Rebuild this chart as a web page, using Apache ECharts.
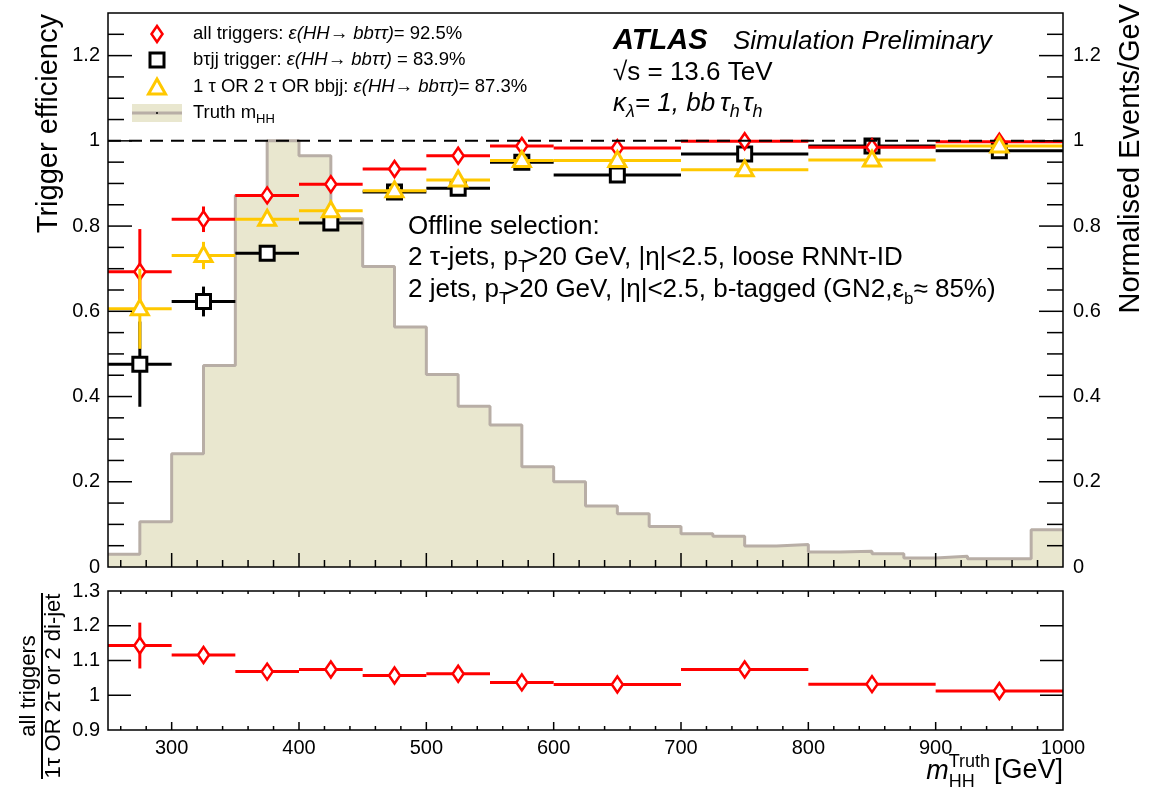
<!DOCTYPE html>
<html><head><meta charset="utf-8">
<script src="https://cdn.jsdelivr.net/npm/echarts@6/dist/echarts.min.js"></script>
<style>html,body{margin:0;padding:0;background:#fff}#c{width:1160px;height:787px}</style>
</head><body><div id="c"></div>
<script>
// ---------------- data ----------------
const histEdges = [250,275,300,325,350,375,400,425,450,475,500,525,550,575,600,625,650,675,700,725,750,775,800,825,850,875,900,925,950,975,1000];
const histValues = [0.030,0.106,0.266,0.473,0.872,1.0,0.965,0.817,0.705,0.563,0.452,0.377,0.333,0.235,0.200,0.143,0.125,0.095,0.078,0.072,0.049,0.053,0.035,0.037,0.031,0.021,0.025,0.0195,0.0195,0.0875];

const effBinEdges = [250,300,350,400,450,500,550,600,700,800,900,1000];
const effAllTriggers    = [0.693,0.816,0.872,0.898,0.934,0.965,0.988,0.983,0.999,0.985,0.998];
const effAllTriggersErr = [0.100,0.030,0.014,0.011,0.009,0.007,0.005,0.005,0.004,0.004,0.004];
const effBtauJJ         = [0.476,0.623,0.736,0.807,0.880,0.889,0.950,0.920,0.969,0.988,0.977];
const effBtauJJErr      = [0.100,0.035,0.016,0.012,0.010,0.008,0.006,0.006,0.005,0.005,0.005];
const effTauOrBBJJ      = [0.606,0.731,0.816,0.836,0.883,0.908,0.954,0.954,0.932,0.955,0.988];
const effTauOrBBJJErr   = [0.094,0.032,0.015,0.012,0.010,0.008,0.006,0.006,0.005,0.005,0.004];
const ratioValues       = [1.143,1.116,1.068,1.074,1.057,1.062,1.037,1.031,1.074,1.032,1.012];
const ratioErr          = [0.066,0.020,0.010,0.008,0.007,0.006,0.005,0.004,0.004,0.004,0.004];

const xTickLabels = [300,400,500,600,700,800,900,1000];
const yMainTickLabels = [0,0.2,0.4,0.6,0.8,1,1.2];
const yRatioTickLabels = [0.9,1,1.1,1.2,1.3];

// ---------------- styles ----------------
const FONT = 'Liberation Sans';
const RED = '#ff0000', BLACK = '#000000', YELLOW = '#ffc800';
const HIST_FILL = '#e9e7cf', HIST_LINE = '#b8aea6';

const mctx = document.createElement('canvas').getContext('2d');
function measure(t, size, style, weight) {
  mctx.font = (style||'normal') + ' ' + (weight||'normal') + ' ' + size + 'px "' + FONT + '"';
  return mctx.measureText(t).width;
}
function seq(x, y, parts, align) {
  const widths = parts.map(p => (p.adv !== undefined ? p.adv : measure(p.t, p.size, p.style, p.weight)) + (p.gap||0));
  const total = widths.reduce((a,b)=>a+b,0);
  let cx = align === 'right' ? x - total : (align === 'center' ? x - total/2 : x);
  const els = [];
  parts.forEach((p,i) => {
    els.push({type:'text', silent:true, x: cx + (p.dx||0), y: y + (p.dy||0), z: 100,
      style:{text:p.t, fontSize:p.size, fontStyle:p.style||'normal', fontWeight:p.weight||'normal',
        fontFamily:FONT, fill:p.color||'#000', align:'left', verticalAlign:'middle'}});
    cx += widths[i];
  });
  return els;
}
function fmtNum(v){ return String(+(+v).toFixed(2)); }
function inList(list, v){ return list.some(t => Math.abs(t - v) < 1e-6); }

// ---------------- series builders ----------------
function effData(vals, errs) {
  return vals.map((v,i) => [effBinEdges[i], effBinEdges[i+1], v, errs[i]]);
}
function markerShape(kind, cx, cy, color) {
  if (kind === 'diamond') return {type:'polygon', shape:{points:[[cx,cy-8],[cx+5.5,cy],[cx,cy+8],[cx-5.5,cy]]}, style:{fill:'#fff', stroke:color, lineWidth:2.5}};
  if (kind === 'square') return {type:'rect', shape:{x:cx-7, y:cy-7, width:14, height:14}, style:{fill:'#fff', stroke:color, lineWidth:3}};
  return {type:'polygon', shape:{points:[[cx,cy-9],[cx+8.5,cy+6],[cx-8.5,cy+6]]}, style:{fill:'#fff', stroke:color, lineWidth:3}};
}
function effSeries(name, vals, errs, color, kind, gridIdx, z) {
  return {
    type:'custom', name, xAxisIndex:gridIdx, yAxisIndex: gridIdx === 0 ? 0 : 2, z, silent:true,
    encode:{x:[0,1], y:2},
    data: effData(vals, errs),
    renderItem(params, api) {
      const lo = api.value(0), hi = api.value(1), v = api.value(2), e = api.value(3);
      const mid = (lo+hi)/2;
      const pL = api.coord([lo, v]), pR = api.coord([hi, v]);
      const pT = api.coord([mid, v+e]), pB = api.coord([mid, v-e]), pC = api.coord([mid, v]);
      return {type:'group', children:[
        {type:'line', shape:{x1:pL[0], y1:pL[1], x2:pR[0], y2:pR[1]}, style:{stroke:color, lineWidth:3}},
        {type:'line', shape:{x1:pT[0], y1:pT[1], x2:pB[0], y2:pB[1]}, style:{stroke:color, lineWidth:3}},
        markerShape(kind, pC[0], pC[1], color)
      ]};
    }
  };
}
// tick marks: [x, y, dir(0 up,1 down,2 right,3 left), length]
function tickData(grid) {
  const out = [];
  if (grid === 0) {
    for (let v = 260; v <= 980; v += 20) out.push([v, 0, 0, v % 100 === 0 ? 14 : 7]);
    for (let k = 1; k <= 25; k++) { const v = k*0.05; const maj = k % 4 === 0; out.push([250, v, 2, maj?24:16]); out.push([1000, v, 3, maj?24:16]); }
  } else {
    for (let v = 260; v <= 980; v += 20) { const maj = v % 100 === 0; out.push([v, 0.9, 0, maj?8:4]); out.push([v, 1.3, 1, maj?6:3]); }
    [1.0, 1.1, 1.2].forEach(v => { out.push([250, v, 2, 23]); out.push([1000, v, 3, 23]); });
  }
  return out;
}
function tickSeries(grid) {
  return {type:'custom', xAxisIndex:grid, yAxisIndex: grid === 0 ? 0 : 2, z:20, silent:true,
    encode:{x:0, y:1}, data: tickData(grid),
    renderItem(params, api) {
      const p = api.coord([api.value(0), api.value(1)]);
      const d = api.value(2), len = api.value(3);
      const q = d===0 ? [p[0], p[1]-len] : d===1 ? [p[0], p[1]+len] : d===2 ? [p[0]+len, p[1]] : [p[0]-len, p[1]];
      return {type:'line', shape:{x1:p[0], y1:p[1], x2:q[0], y2:q[1]}, style:{stroke:'#000', lineWidth:1.5}};
    }};
}

// ---------------- graphics (text annotations, legend) ----------------
const g = [];
const eps = 'ε(HH→ bbττ)';
const LG = 18.5;
g.push(...seq(193, 34, [{t:'all triggers: ', size:LG}, {t:eps, size:LG, style:'italic'}, {t:'= 92.5%', size:LG}]));
g.push(...seq(193, 60, [{t:'bτjj trigger: ', size:LG}, {t:eps, size:LG, style:'italic'}, {t:' = 83.9%', size:LG}]));
g.push(...seq(193, 87, [{t:'1 τ OR 2 τ OR bbjj: ', size:LG}, {t:eps, size:LG, style:'italic'}, {t:'= 87.3%', size:LG}]));
g.push(...seq(193, 113, [{t:'Truth m', size:LG}, {t:'HH', size:13, dy:6}]));
g.push(Object.assign(markerShape('diamond', 157, 34, RED), {z:100, silent:true}));
g.push(Object.assign(markerShape('square', 157, 60, BLACK), {z:100, silent:true}));
g.push(Object.assign(markerShape('triangle', 157, 88, YELLOW), {z:100, silent:true}));
g.push({type:'rect', silent:true, z:100, shape:{x:132, y:104, width:50, height:18}, style:{fill:HIST_FILL}});
g.push({type:'line', silent:true, z:101, shape:{x1:132, y1:113, x2:182, y2:113}, style:{stroke:HIST_LINE, lineWidth:3}});
g.push({type:'circle', silent:true, z:102, shape:{cx:157, cy:113, r:1}, style:{fill:'#000'}});

// ATLAS block
const AT = 26;
g.push(...seq(613, 41, [{t:'ATLAS', size:29, style:'italic', weight:'bold'}]));
g.push(...seq(733, 42, [{t:'Simulation Preliminary', size:AT, style:'italic'}]));
g.push(...seq(613, 73, [{t:'√s = 13.6 TeV', size:AT}]));
g.push(...seq(613, 104, [
  {t:'κ', size:AT, style:'italic'}, {t:'λ', size:18, style:'italic', dy:8},
  {t:'= 1, bb', size:AT, style:'italic', gap:5}, {t:'τ', size:AT, style:'italic'}, {t:'h', size:18, style:'italic', dy:8, gap:3},
  {t:'τ', size:AT, style:'italic'}, {t:'h', size:18, style:'italic', dy:8}]));

// Offline selection
const OS = 26;
g.push(...seq(408, 227, [{t:'Offline selection:', size:OS}]));
g.push(...seq(408, 258, [{t:'2 τ-jets, p', size:OS}, {t:'T', size:17, dy:9, adv:5}, {t:'>20 GeV, |η|<2.5, loose RNNτ-ID', size:OS}]));
g.push(...seq(408, 290, [{t:'2 jets, p', size:OS}, {t:'T', size:17, dy:9, adv:5}, {t:'>20 GeV, |η|<2.5, b-tagged (GN2,ε', size:OS}, {t:'b', size:17, dy:9}, {t:'≈ 85%)', size:OS}]));

// x axis title
const wTruth = measure('Truth', 18);
g.push(...seq(1063, 771, [
  {t:'m', size:27, style:'italic'},
  {t:'Truth', size:18, dy:-9, adv:0},
  {t:'HH', size:18, dy:11, adv:wTruth + 4},
  {t:'[GeV]', size:27}], 'right'));

// rotated y titles
g.push({type:'group', x:49, y:14, rotation:Math.PI/2, silent:true, z:100, children:[
  {type:'text', x:0, y:0, style:{text:'Trigger efficiency', fontSize:29, fontFamily:FONT, fill:'#000', align:'right', verticalAlign:'middle'}}]});
g.push({type:'group', x:1131, y:4, rotation:Math.PI/2, silent:true, z:100, children:[
  {type:'text', x:0, y:0, style:{text:'Normalised Events/GeV', fontSize:29, fontFamily:FONT, fill:'#000', align:'right', verticalAlign:'middle'}}]});
g.push({type:'group', x:42, y:686, rotation:Math.PI/2, silent:true, z:100, children:[
  {type:'text', x:0, y:-13, style:{text:'all triggers', fontSize:22, fontFamily:FONT, fill:'#000', align:'center', verticalAlign:'middle'}},
  {type:'line', shape:{x1:-93, y1:0, x2:93, y2:0}, style:{stroke:'#000', lineWidth:2}},
  {type:'text', x:0, y:12, style:{text:'1τ OR 2τ or 2 di-jet', fontSize:22, fontFamily:FONT, fill:'#000', align:'center', verticalAlign:'middle'}}]});

// ---------------- chart ----------------
const chart = echarts.init(document.getElementById('c'), null, {renderer:'canvas'});
const labelStyle = {color:'#000', fontSize:20, fontFamily:FONT};
const hiddenAxisBits = {axisLine:{show:false}, axisTick:{show:false}, splitLine:{show:false}};
chart.setOption({
  animation:false,
  backgroundColor:'#fff',
  grid:[
    {left:108, right:97, top:13, height:554, show:true, borderColor:'#000', borderWidth:1.5, backgroundColor:'transparent', z:30},
    {left:108, right:97, top:591, height:139, show:true, borderColor:'#000', borderWidth:1.5, backgroundColor:'transparent', z:30}
  ],
  xAxis:[
    Object.assign({gridIndex:0, type:'value', min:250, max:1000, interval:50, axisLabel:{show:false}}, hiddenAxisBits),
    Object.assign({gridIndex:1, type:'value', min:250, max:1000, interval:50,
      axisLabel:Object.assign({show:true, margin:8, interval:0, showMinLabel:true, showMaxLabel:true,
        formatter:v => inList(xTickLabels, v) ? String(v) : ''}, labelStyle)}, hiddenAxisBits)
  ],
  yAxis:[
    Object.assign({gridIndex:0, type:'value', position:'left', min:0, max:1.3, interval:0.1,
      axisLabel:Object.assign({margin:8, formatter:v => inList(yMainTickLabels, v) ? fmtNum(v) : ''}, labelStyle)}, hiddenAxisBits),
    Object.assign({gridIndex:0, type:'value', position:'right', min:0, max:1.3, interval:0.1,
      axisLabel:Object.assign({margin:10, formatter:v => inList(yMainTickLabels, v) ? fmtNum(v) : ''}, labelStyle)}, hiddenAxisBits),
    Object.assign({gridIndex:1, type:'value', position:'left', min:0.9, max:1.3, interval:0.1,
      axisLabel:Object.assign({margin:8, showMaxLabel:true, showMinLabel:true, formatter:v => inList(yRatioTickLabels, v) ? fmtNum(v) : ''}, labelStyle)}, hiddenAxisBits)
  ],
  series:[
    {type:'line', name:'Truth mHH', xAxisIndex:0, yAxisIndex:1, z:1, step:'end', symbol:'none', silent:true,
      data: histEdges.map((e,i) => [e, histValues[Math.min(i, histValues.length-1)]]),
      lineStyle:{color:HIST_LINE, width:3}, areaStyle:{color:HIST_FILL, opacity:1}},
    tickSeries(0), tickSeries(1),
    effSeries('bτjj trigger', effBtauJJ, effBtauJJErr, BLACK, 'square', 0, 4),
    effSeries('all triggers', effAllTriggers, effAllTriggersErr, RED, 'diamond', 0, 5),
    {type:'line', xAxisIndex:0, yAxisIndex:0, z:6, symbol:'none', silent:true, data:[[250,1],[1000,1]],
      lineStyle:{color:'#000', width:2, type:[13,8]}},
    effSeries('1τ OR 2τ OR bbjj', effTauOrBBJJ, effTauOrBBJJErr, YELLOW, 'triangle', 0, 7),
    effSeries('ratio', ratioValues, ratioErr, RED, 'diamond', 1, 5)
  ],
  graphic: g
});
</script>
</body></html>
